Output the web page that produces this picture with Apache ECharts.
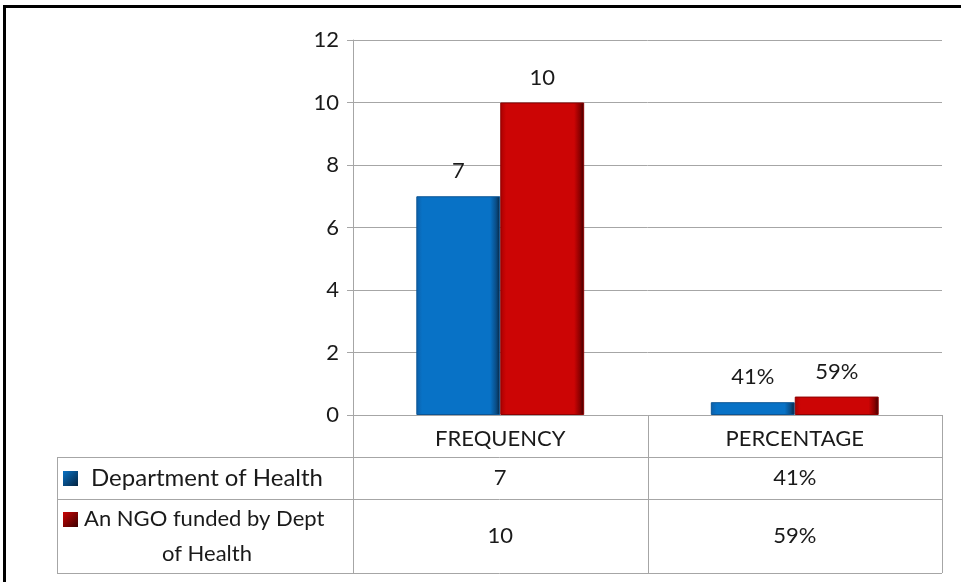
<!DOCTYPE html>
<html>
<head>
<meta charset="utf-8">
<script src="https://cdn.jsdelivr.net/npm/echarts@6/dist/echarts.min.js"></script>
<style>
  html, body { margin: 0; padding: 0; background: #fff; }
  #frame { position: absolute; left: 3px; top: 5px; width: 958px; height: 577px;
           border-top: 3px solid #000; border-left: 3px solid #000; box-sizing: border-box; }
  #main { position: absolute; left: 0; top: 0; width: 961px; height: 582px; }
</style>
</head>
<body>
<div id="frame"></div>
<div id="main"></div>
<script>
  var categories = ['FREQUENCY', 'PERCENTAGE'];
  var seriesNames = ['Department of Health', 'An NGO funded by Dept of Health'];
  var deptValues = [7, 0.41];
  var ngoValues = [10, 0.59];
  var yMin = 0, yMax = 12, yStep = 2;

  var FONT = 'Lato, "Open Sans", sans-serif';
  var gridColor = '#a6a6a6';

  function fmt(value, idx) {
    return idx === 1 ? Math.round(value * 100) + '%' : String(value);
  }

  function barGradient(c) {
    return new echarts.graphic.LinearGradient(0, 0, 1, 0, [
      {offset: 0, color: c[0]},
      {offset: 0.07, color: c[1]},
      {offset: 0.88, color: c[1]},
      {offset: 0.95, color: c[2]},
      {offset: 1, color: c[3]}
    ]);
  }
  var blue = ['#0d5fa8', '#0872c6', '#0a4d86', '#04233f'];
  var red = ['#a80000', '#cc0505', '#8a0000', '#3a0000'];

  var chart = echarts.init(document.getElementById('main'));

  function barSeries(name, data, colors, edge) {
    return {
      name: name,
      type: 'bar',
      data: data,
      barGap: 0,
      barCategoryGap: '43%',
      itemStyle: {
        color: barGradient(colors),
        borderColor: edge,
        borderWidth: 1
      },
      label: {
        show: true,
        position: 'top',
        distance: 14,
        color: '#1a1a1a',
        fontFamily: FONT,
        fontSize: 22,
        formatter: function (p) { return fmt(p.value, p.dataIndex); }
      }
    };
  }

  chart.setOption({
    animation: false,
    grid: {left: 353, right: 19, top: 40, bottom: 167},
    xAxis: {
      type: 'category',
      data: categories,
      axisLine: {lineStyle: {color: gridColor}},
      axisTick: {show: false},
      axisLabel: {
        margin: 13,
        color: '#1a1a1a',
        fontFamily: FONT,
        fontSize: 22
      }
    },
    yAxis: {
      type: 'value',
      min: yMin,
      max: yMax,
      interval: yStep,
      axisLine: {show: true, lineStyle: {color: gridColor}},
      axisTick: {show: true, length: 6, lineStyle: {color: gridColor}},
      axisLabel: {margin: 14, color: '#1a1a1a', fontFamily: FONT, fontSize: 22},
      splitLine: {lineStyle: {color: gridColor, width: 1}}
    },
    series: [
      barSeries(seriesNames[0], deptValues, blue, '#0b5595'),
      barSeries(seriesNames[1], ngoValues, red, '#8e0000')
    ]
  });

  // data table under the plot, laid out from the axis scale
  function drawTable() {
    var c0 = chart.convertToPixel({xAxisIndex: 0}, categories[0]);
    var c1 = chart.convertToPixel({xAxisIndex: 0}, categories[1]);
    var band = c1 - c0;
    var axisY = chart.convertToPixel({yAxisIndex: 0}, 0);
    var plotLeft = c0 - band / 2;
    var plotRight = c1 + band / 2;
    var tableLeft = 57;
    var headerBottom = axisY + 42;
    var row1Bottom = headerBottom + 42;
    var row2Bottom = row1Bottom + 74;
    var rows = [[headerBottom, row1Bottom], [row1Bottom, row2Bottom]];
    var nameSizes = [24, 22];
    var values = [deptValues, ngoValues];
    var keys = [blue, red];
    var els = [];
    function line(x1, y1, x2, y2) {
      els.push({type: 'line', silent: true, shape: {x1: x1, y1: y1, x2: x2, y2: y2},
        style: {stroke: gridColor, lineWidth: 1}});
    }
    [plotLeft, c0 + band / 2, plotRight].forEach(function (x) {
      line(Math.round(x) + 0.5, axisY, Math.round(x) + 0.5, row2Bottom);
    });
    line(tableLeft + 0.5, headerBottom, tableLeft + 0.5, row2Bottom);
    [headerBottom, row1Bottom, row2Bottom].forEach(function (y) {
      line(tableLeft, Math.round(y) + 0.5, plotRight, Math.round(y) + 0.5);
    });
    var cellCenter = (tableLeft + plotLeft) / 2 + 2;
    rows.forEach(function (r, i) {
      var mid = (r[0] + r[1]) / 2;
      els.push({type: 'text', silent: true, style: {
        text: seriesNames[i], x: cellCenter, y: mid,
        width: 262, overflow: 'break', lineHeight: 35,
        align: 'center', verticalAlign: 'middle',
        fill: '#1a1a1a', font: nameSizes[i] + 'px ' + FONT
      }});
      var keyY = i === 0 ? mid : r[0] + 20;
      els.push({type: 'rect', silent: true,
        shape: {x: tableLeft + 6, y: keyY - 7, width: 15, height: 15},
        style: {fill: new echarts.graphic.LinearGradient(0, 0, 1, 1, [
          {offset: 0, color: keys[i][1]}, {offset: 1, color: keys[i][3]}])}});
      categories.forEach(function (cat, j) {
        els.push({type: 'text', silent: true, style: {
          text: fmt(values[i][j], j), x: c0 + band * j, y: mid,
          align: 'center', verticalAlign: 'middle',
          fill: '#1a1a1a', font: '22px ' + FONT
        }});
      });
    });
    chart.setOption({graphic: els});
  }
  drawTable();
</script>
</body>
</html>
